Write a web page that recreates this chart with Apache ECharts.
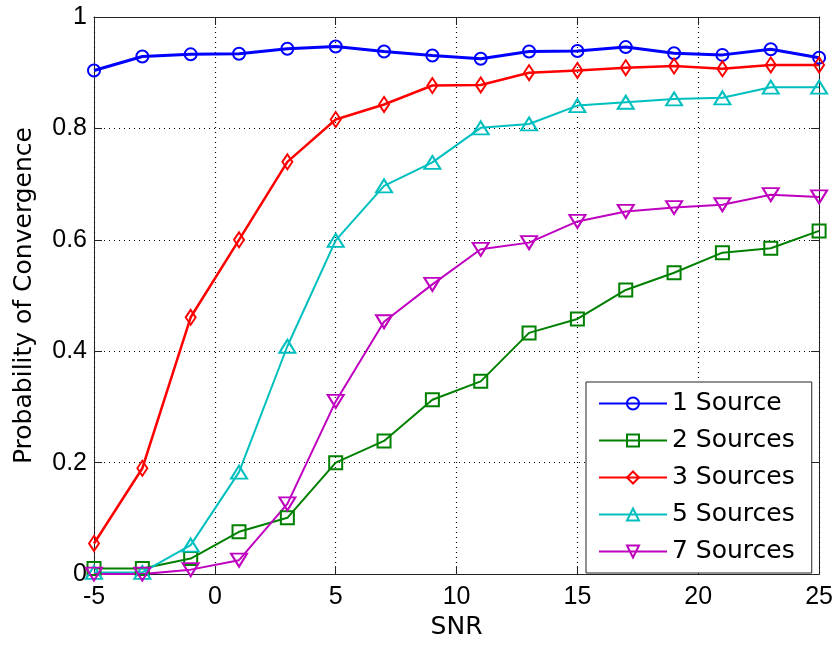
<!DOCTYPE html>
<html>
<head>
<meta charset="utf-8">
<script src="https://cdn.jsdelivr.net/npm/echarts@6/dist/echarts.min.js"></script>
<style>
html,body{margin:0;padding:0;background:#fff;}
#chart{width:836px;height:645px;}
</style>
</head>
<body>
<div id="chart"></div>
<script>
var snr = [-5, -3, -1, 1, 3, 5, 7, 9, 11, 13, 15, 17, 19, 21, 23, 25];
var source1 = [0.904, 0.929, 0.933, 0.934, 0.943, 0.947, 0.938, 0.931, 0.925, 0.938, 0.939, 0.946, 0.935, 0.932, 0.942, 0.927];
var sources2 = [0.01, 0.01, 0.028, 0.076, 0.101, 0.200, 0.239, 0.313, 0.346, 0.433, 0.458, 0.510, 0.541, 0.577, 0.585, 0.616];
var sources3 = [0.055, 0.190, 0.461, 0.600, 0.740, 0.816, 0.843, 0.877, 0.878, 0.900, 0.904, 0.909, 0.912, 0.907, 0.914, 0.914];
var sources5 = [0.003, 0.003, 0.052, 0.183, 0.409, 0.599, 0.697, 0.739, 0.801, 0.808, 0.841, 0.847, 0.853, 0.855, 0.874, 0.874];
var sources7 = [0.0, 0.0, 0.008, 0.025, 0.126, 0.310, 0.453, 0.520, 0.583, 0.595, 0.633, 0.651, 0.658, 0.663, 0.681, 0.677];
var seriesNames = ['1 Source', '2 Sources', '3 Sources', '5 Sources', '7 Sources'];
var xTicks = [-5, 0, 5, 10, 15, 20, 25];

function pairs(ys) { return snr.map(function (x, i) { return [x, ys[i]]; }); }

var chart = echarts.init(document.getElementById('chart'), null, {renderer: 'canvas'});
var axisColor = '#222';
var tickFont = {fontFamily: 'Liberation Sans', fontSize: 25, color: '#000'};

function mk(name, data, color, symbol, size, lw, rot) {
  return {
    name: name, type: 'line', data: pairs(data),
    xAxisIndex: 0, yAxisIndex: 0,
    symbol: symbol, symbolSize: size, symbolRotate: rot || 0,
    showAllSymbol: true,
    lineStyle: {color: color, width: lw},
    itemStyle: {color: 'rgba(255,255,255,0)', borderColor: color, borderWidth: 2},
    emphasis: {disabled: true},
    animation: false
  };
}

chart.setOption({
  animation: false,
  grid: {left: 94, right: 15, top: 17, bottom: 66, containLabel: false},
  legend: {
    orient: 'vertical', left: 586, top: 382,
    padding: [9, 17, 9, 12],
    backgroundColor: '#fff', borderColor: '#222', borderWidth: 1,
    itemWidth: 68, itemHeight: 15, itemGap: 12,
    textStyle: {fontFamily: 'DejaVu Sans', fontSize: 25, color: '#000', lineHeight: 25},
    data: seriesNames
  },
  xAxis: [{
    type: 'value', min: -5, max: 25, interval: 5, position: 'bottom',
    name: 'SNR', nameLocation: 'middle', nameGap: 36,
    nameTextStyle: {fontFamily: 'DejaVu Sans', fontSize: 25, color: '#000'},
    axisLine: {show: true, onZero: false, lineStyle: {color: axisColor, width: 1}},
    axisTick: {show: true, inside: true, length: 8, lineStyle: {color: axisColor}},
    axisLabel: Object.assign({margin: 11}, tickFont),
    splitLine: {show: true, lineStyle: {color: '#000', width: 1.2, type: [1, 4]}}
  }, {
    type: 'value', min: -5, max: 25, interval: 5, position: 'top',
    axisLine: {show: true, onZero: false, lineStyle: {color: axisColor, width: 1}},
    axisTick: {show: true, inside: true, length: 8, lineStyle: {color: axisColor}},
    axisLabel: {show: false}, splitLine: {show: false}
  }],
  yAxis: [{
    type: 'value', min: 0, max: 1, interval: 0.2, position: 'left',
    name: 'Probability of Convergence', nameLocation: 'middle', nameGap: 57,
    nameTextStyle: {fontFamily: 'DejaVu Sans', fontSize: 25, color: '#000'},
    axisLine: {show: true, onZero: false, lineStyle: {color: axisColor, width: 1}},
    axisTick: {show: true, inside: true, length: 8, lineStyle: {color: axisColor}},
    axisLabel: Object.assign({margin: 7}, tickFont),
    splitLine: {show: true, lineStyle: {color: '#000', width: 1.2, type: [1, 4]}}
  }, {
    type: 'value', min: 0, max: 1, interval: 0.2, position: 'right',
    axisLine: {show: true, onZero: false, lineStyle: {color: axisColor, width: 1}},
    axisTick: {show: true, inside: true, length: 8, lineStyle: {color: axisColor}},
    axisLabel: {show: false}, splitLine: {show: false}
  }],
  series: [
    mk(seriesNames[0], source1, '#0000FF', 'circle', 12, 3),
    mk(seriesNames[1], sources2, '#008000', 'rect', 13, 2),
    mk(seriesNames[2], sources3, '#FF0000', 'diamond', [10, 15], 2.5),
    mk(seriesNames[3], sources5, '#00BFBF', 'triangle', [16, 13], 2),
    mk(seriesNames[4], sources7, '#BF00BF', 'triangle', [16, 13], 2, 180)
  ]
});
</script>
</body>
</html>
